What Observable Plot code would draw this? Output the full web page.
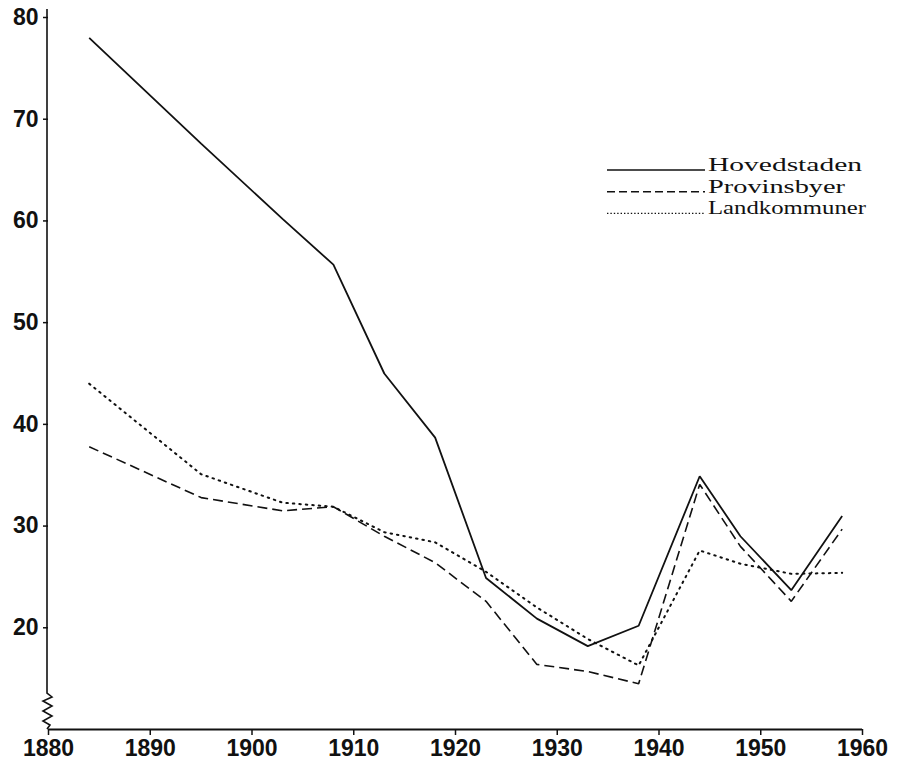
<!DOCTYPE html>
<html><head><meta charset="utf-8">
<script src="https://cdn.jsdelivr.net/npm/d3@7"></script>
<script src="https://cdn.jsdelivr.net/npm/@observablehq/plot@0.6"></script>
<style>
html,body{margin:0;padding:0;background:#fff;}
#wrap{position:relative;width:899px;height:760px;overflow:hidden;}
#legend{position:absolute;left:0;top:0;}
</style></head><body><div id="wrap"></div>
<script>
// Data
const years = [1884,1895,1903,1908,1913,1918,1923,1928,1933,1938,1944,1948,1953,1958];
const hovedstaden  = [78.0,67.6,60.2,55.7,45.0,38.7,24.9,20.9,18.2,20.2,34.9,29.0,23.7,31.0];
const provinsbyer  = [37.8,32.8,31.5,31.9,29.0,26.4,22.6,16.4,15.7,14.5,34.1,28.0,22.6,29.7];
const landkommuner = [44.0,35.1,32.3,31.9,29.4,28.4,25.5,22.0,18.9,16.3,27.6,26.3,25.3,25.4];
const seriesNames = ["Hovedstaden","Provinsbyer","Landkommuner"];
const xTicks = [1880,1890,1900,1910,1920,1930,1940,1950,1960];
const yTicks = [20,30,40,50,60,70,80];

const seriesValues = [hovedstaden, provinsbyer, landkommuner];
const dashes = [null, "10,5", "1.5,5"];
const legendDashes = [null, "8,4", "1.4,2"];

const rows = seriesNames.flatMap((name, s) =>
  years.map((year, i) => ({series: name, year, value: seriesValues[s][i]})));

const axisFont = "'Liberation Sans', Arial, Helvetica, sans-serif";

// y-axis line with zigzag break near the bottom
function yAxisWithBreak(index, scales, values, dims) {
  const x0 = scales.x(1880) - 1;
  const yb = scales.y(10);
  const yt = dims.marginTop - 8;
  const p = d3.path();
  p.moveTo(x0, yt);
  p.lineTo(x0, yb - 36);
  const zig = [[5,-32],[-4,-28],[5,-23],[-4,-18],[5,-13],[-4,-8],[3,-4],[0,0]];
  for (const [dx, dy] of zig) p.lineTo(x0 + dx, yb + dy);
  return d3.create("svg:path")
    .attr("d", p.toString())
    .attr("fill", "none")
    .attr("stroke", "#111")
    .attr("stroke-width", 1.6)
    .node();
}

const chart = Plot.plot({
  width: 899,
  height: 760,
  marginLeft: 48,
  marginRight: 37,
  marginTop: 17,
  marginBottom: 31,
  style: {background: "#fff", overflow: "visible", color: "#111"},
  x: {domain: [1880, 1960], label: null},
  y: {domain: [10, 80], label: null},
  marks: [
    Plot.axisX({ticks: xTicks, tickFormat: d => String(d), tickSize: 6, tickPadding: 4, label: null,
      fontSize: 23, fontWeight: "bold", fontFamily: axisFont, strokeWidth: 1.5}),
    Plot.axisY({ticks: yTicks, tickFormat: d => String(d), tickSize: 5, tickPadding: 5, label: null,
      fontSize: 23, fontWeight: "bold", fontFamily: axisFont, strokeWidth: 1.5}),
    Plot.ruleY([10], {stroke: "#111", strokeWidth: 1.8}),
    yAxisWithBreak,
    ...seriesNames.map((name, s) =>
      Plot.line(rows.filter(d => d.series === name), {
        x: "year", y: "value", stroke: "#111",
        strokeWidth: s === 0 ? 1.8 : (s === 1 ? 1.6 : 2),
        strokeDasharray: dashes[s],
        strokeLinecap: s === 2 ? "round" : "butt",
        strokeLinejoin: "miter"
      }))
  ]
});

const wrap = document.getElementById("wrap");
wrap.appendChild(chart);

// Legend overlay
const leg = d3.select(wrap).append("svg")
  .attr("id", "legend")
  .attr("width", 899).attr("height", 760);
const legX0 = 607, legX1 = 705, legTextX = 708, legY0 = 170, legStep = 21.7;
const legWidths = [154, 137, 158];
seriesNames.forEach((name, s) => {
  const y = legY0 + s * legStep;
  leg.append("line")
    .attr("x1", legX0).attr("x2", legX1).attr("y1", y).attr("y2", y)
    .attr("stroke", "#111").attr("stroke-width", s === 0 ? 1.6 : 1.4)
    .attr("stroke-dasharray", legendDashes[s]);
  leg.append("text")
    .attr("x", legTextX).attr("y", y + 1)
    .attr("font-family", "'Liberation Serif', 'Times New Roman', serif")
    .attr("font-size", 19)
    .attr("fill", "#111")
    .attr("textLength", legWidths[s])
    .attr("lengthAdjust", "spacingAndGlyphs")
    .text(name);
});
</script></body></html>
